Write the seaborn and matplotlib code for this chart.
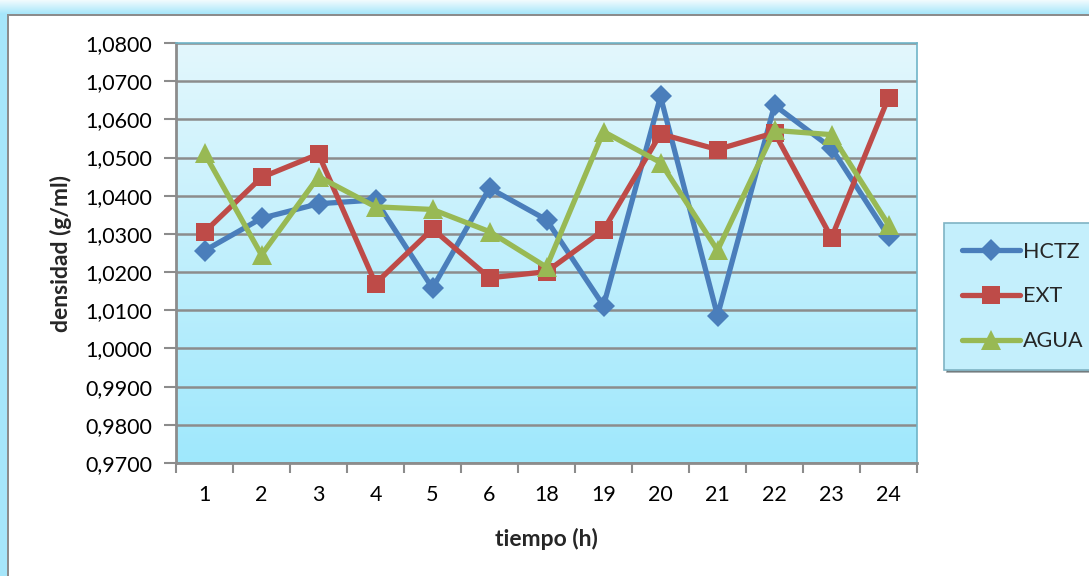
import numpy as np
import pandas as pd
import matplotlib
matplotlib.use("Agg")
import matplotlib.pyplot as plt
from matplotlib.patches import Rectangle
from matplotlib.ticker import FixedLocator, FuncFormatter
import seaborn as sns

# Sampling times (h) and measured densities (g/ml)
tiempo = ["1", "2", "3", "4", "5", "6", "18", "19", "20", "21", "22", "23", "24"]
hctz = [1.0256, 1.0341, 1.0379, 1.0389, 1.0158, 1.0420, 1.0337,
        1.0112, 1.0660, 1.0086, 1.0637, 1.0525, 1.0294]
ext = [1.0305, 1.0448, 1.0509, 1.0170, 1.0313, 1.0185, 1.0201,
       1.0310, 1.0562, 1.0521, 1.0565, 1.0290, 1.0657]
agua = [1.0511, 1.0245, 1.0450, 1.0371, 1.0364, 1.0306, 1.0213,
        1.0568, 1.0487, 1.0257, 1.0571, 1.0560, 1.0324]
series_names = ["HCTZ", "EXT", "AGUA"]
y_ticks = [0.97, 0.98, 0.99, 1.00, 1.01, 1.02, 1.03, 1.04, 1.05, 1.06, 1.07, 1.08]

df = pd.DataFrame({
    "tiempo": tiempo * 3,
    "densidad": hctz + ext + agua,
    "serie": np.repeat(series_names, len(tiempo)),
})

sns.set_theme(style="white")
plt.rcParams["font.family"] = ["Lato", "DejaVu Sans"]

W, H, DPI = 1089, 576, 100
fig = plt.figure(figsize=(W / DPI, H / DPI), dpi=DPI)
fig.patch.set_facecolor("white")


def px(x0, y0, w, h):
    """Pixel box (top-left origin) -> figure fraction rectangle."""
    return (x0 / W, 1 - (y0 + h) / H, w / W, h / H)


# Outer chart frame: light blue band along the top and left edge, grey border
top_grad = np.linspace(0, 1, 50).reshape(-1, 1)
band = fig.add_axes(px(0, 0, W, 14))
band.imshow(top_grad, aspect="auto", cmap=matplotlib.colors.LinearSegmentedColormap.from_list(
    "band", ["#f2fbfe", "#a6e6fa"]), extent=[0, 1, 0, 1])
band.set_axis_off()
fig.add_artist(Rectangle(px(0, 14, 7, H - 14)[:2], 7 / W, (H - 14) / H,
                         transform=fig.transFigure, facecolor="#a6e6fa",
                         edgecolor="none", zorder=0))
fig.add_artist(Rectangle(px(7, 14, W - 7, 2)[:2], (W - 7) / W, 2 / H,
                         transform=fig.transFigure, facecolor="#8c8c8c",
                         edgecolor="none", zorder=1))
fig.add_artist(Rectangle(px(7, 14, 2, H - 14)[:2], 2 / W, (H - 14) / H,
                         transform=fig.transFigure, facecolor="#8c8c8c",
                         edgecolor="none", zorder=1))

ax = fig.add_axes(px(176, 43, 741, 420))
ax.set_facecolor("none")

# Plot-area gradient fill (pale at top, brighter cyan at bottom)
grad = np.linspace(0, 1, 256).reshape(-1, 1)
cmap_bg = matplotlib.colors.LinearSegmentedColormap.from_list(
    "bg", ["#e3f7fd", "#9fe8fc"])
ax.imshow(grad, aspect="auto", cmap=cmap_bg, extent=[0, 1, 0, 1],
          origin="upper", transform=ax.transAxes, zorder=0)

palette = {"HCTZ": "#4a7ebb", "EXT": "#be4b48", "AGUA": "#98b954"}
markers = {"HCTZ": "D", "EXT": "s", "AGUA": "^"}
sizes = {"HCTZ": 11, "EXT": 13, "AGUA": 15}

for name in series_names:
    sub = df[df["serie"] == name]
    sns.lineplot(data=sub, x="tiempo", y="densidad", ax=ax, sort=False,
                 color=palette[name], marker=markers[name],
                 markersize=sizes[name], markeredgewidth=0, linewidth=3.8,
                 label=name, zorder=3)

FS = 15.5
ax.set_xlim(-0.5, len(tiempo) - 0.5)
ax.set_ylim(y_ticks[0], y_ticks[-1])
ax.set_xticks(range(len(tiempo)))
ax.set_xticklabels(tiempo)
ax.xaxis.set_minor_locator(FixedLocator(np.arange(-0.5, len(tiempo), 1.0)))
ax.tick_params(axis="x", which="major", length=0, pad=16, labelsize=FS,
               labelcolor="black")
ax.tick_params(axis="x", which="minor", length=7, width=1.5, color="#8c8c8c",
               direction="out", bottom=True)
ax.set_yticks(y_ticks)
ax.yaxis.set_major_formatter(FuncFormatter(lambda v, _: f"{v:.4f}".replace(".", ",")))
ax.tick_params(axis="y", length=9, width=1.5, color="#8c8c8c", direction="out",
               left=True, pad=8, labelsize=FS, labelcolor="black")

ax.grid(axis="y", color="#8c8c8c", linewidth=1.8, zorder=1)
ax.set_axisbelow(True)
for side in ["left", "bottom"]:
    ax.spines[side].set_color("#8c8c8c")
    ax.spines[side].set_linewidth(2)
for side in ["top", "right"]:
    ax.spines[side].set_color("#6fb4c8")
    ax.spines[side].set_linewidth(1.2)

ax.set_xlabel("tiempo (h)", fontsize=16.5, fontweight="bold", labelpad=16)
ax.set_ylabel("densidad (g/ml)", fontsize=16.5, fontweight="bold", labelpad=10)

leg = ax.legend(loc="center left", bbox_to_anchor=(944 / W, 1 - 296.5 / H),
                bbox_transform=fig.transFigure, frameon=True, fontsize=FS,
                handlelength=2.7, handletextpad=0.1, labelspacing=1.15,
                borderpad=0.85, borderaxespad=0, fancybox=False, shadow=True)
leg.get_frame().set_facecolor("#c4effc")
leg.get_frame().set_edgecolor("#7fb3c4")
leg.get_frame().set_linewidth(1.2)

fig.savefig("out.png", dpi=DPI)
